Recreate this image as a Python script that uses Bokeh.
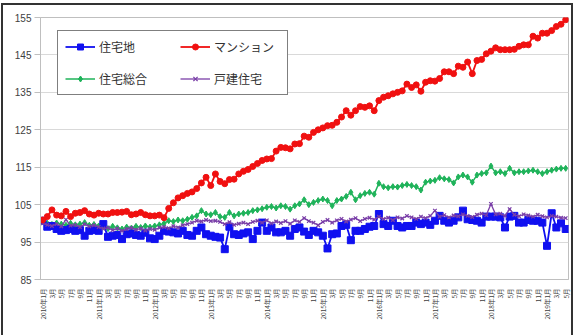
import math
from bokeh.plotting import figure
from bokeh.models import Range1d, FixedTicker, Legend, LegendItem
from bokeh.embed import file_html
from bokeh.resources import INLINE

# ---- data (monthly, 2010年1月 – 2019年5月) ----
start_year = 2010
n_months = 113

residential_land = (  # 住宅地
    [100.7, 99.1, 99.3, 98.5, 98.0, 98.2, 98.5, 98.0, 98.2, 96.7, 98.0, 98.2]
    + [98.0, 99.8, 96.4, 96.7, 96.9, 95.8, 97.1, 97.3, 96.9, 96.7, 97.5, 96.0]
    + [95.8, 96.7, 98.0, 97.8, 97.6, 97.3, 98.0, 96.9, 96.7, 98.0, 98.9, 97.1]
    + [96.7, 96.4, 96.2, 93.1, 99.1, 97.1, 96.9, 97.3, 97.6, 95.8, 98.0, 100.2]
    + [98.0, 98.9, 97.6, 97.6, 98.0, 96.7, 98.5, 98.9, 97.8, 96.9, 98.0, 97.6]
    + [96.7, 93.3, 97.1, 97.3, 99.3, 99.6, 95.5, 98.0, 98.0, 98.5, 99.1, 99.3]
    + [102.5, 99.8, 99.3, 100.7, 99.3, 98.9, 99.3, 99.3, 100.2, 99.8, 100.2, 99.6]
    + [100.7, 102.0, 100.7, 100.2, 100.7, 101.6, 103.4, 101.1, 100.9, 100.7, 100.2, 101.8]
    + [101.8, 101.8, 101.6, 98.9, 101.8, 102.0, 100.2, 100.2, 100.9, 100.7, 100.7, 100.2]
    + [94.0, 102.7, 98.9, 100.0, 98.5]
)

condominium = (  # マンション
    [100.9, 101.8, 103.6, 102.2, 102.0, 103.2, 101.8, 102.7, 102.9, 103.4, 102.5, 102.2]
    + [102.7, 102.5, 102.5, 102.9, 102.9, 103.0, 103.2, 102.3, 102.5, 102.9, 102.3, 102.0]
    + [102.0, 102.2, 101.5, 104.0, 105.5, 106.8, 107.4, 108.0, 108.4, 109.3, 110.8, 112.3]
    + [110.1, 113.2, 111.2, 110.6, 111.7, 111.8, 113.2, 113.9, 114.4, 115.2, 116.0, 116.8]
    + [117.2, 117.3, 119.3, 120.3, 120.2, 119.9, 121.2, 121.3, 123.3, 123.0, 124.3, 125.0]
    + [125.5, 126.1, 126.2, 127.0, 128.4, 130.1, 128.9, 130.1, 131.2, 131.0, 131.4, 130.1]
    + [132.8, 133.7, 134.1, 134.6, 135.0, 135.4, 137.2, 136.3, 137.0, 135.3, 137.7, 138.1]
    + [138.0, 138.7, 140.5, 140.5, 140.0, 142.0, 141.7, 143.1, 140.0, 143.5, 143.8, 145.3]
    + [146.0, 146.9, 146.4, 146.4, 146.4, 146.5, 147.3, 147.7, 147.7, 150.0, 149.5, 150.8]
    + [150.8, 151.5, 152.6, 153.2, 154.4]
)

residential_total = (  # 住宅総合
    [100.8, 100.0, 99.7, 100.1, 99.8, 99.5, 100.0, 99.6, 99.8, 100.2, 99.5, 99.7]
    + [99.3, 99.0, 98.6, 99.2, 98.8, 98.5, 99.0, 98.7, 99.2, 98.9, 99.3, 99.0]
    + [99.3, 99.6, 100.0, 100.7, 100.5, 100.9, 100.7, 101.1, 101.6, 102.0, 103.4, 102.5]
    + [102.3, 102.9, 101.8, 101.6, 102.9, 102.0, 102.5, 102.7, 102.9, 103.4, 103.6, 103.9]
    + [104.3, 104.5, 104.1, 104.7, 104.5, 103.8, 104.7, 105.2, 106.3, 105.0, 105.6, 106.1]
    + [106.5, 106.1, 104.7, 106.1, 106.5, 107.2, 108.3, 106.3, 107.4, 108.0, 108.3, 107.8]
    + [110.7, 109.8, 109.5, 109.8, 109.7, 110.1, 110.4, 110.1, 109.8, 108.9, 111.0, 111.3]
    + [111.5, 112.2, 111.9, 111.7, 110.8, 112.4, 112.9, 112.4, 111.0, 112.9, 113.3, 113.5]
    + [115.3, 113.5, 113.8, 113.3, 114.7, 113.5, 113.8, 113.8, 114.0, 114.2, 113.8, 113.3]
    + [113.8, 114.2, 114.5, 114.7, 114.7]
)

detached_house = (  # 戸建住宅
    [100.0, 99.6, 99.3, 99.8, 99.2, 101.0, 99.4, 99.6, 99.0, 99.8, 99.2, 99.5]
    + [99.0, 98.6, 98.8, 98.2, 98.6, 98.0, 98.5, 98.8, 98.3, 98.6, 98.1, 98.5]
    + [98.3, 98.8, 99.0, 98.7, 99.2, 98.9, 99.5, 99.8, 100.2, 100.7, 100.5, 100.9]
    + [100.6, 100.7, 100.4, 99.8, 100.3, 99.6, 99.9, 100.2, 99.8, 100.4, 100.7, 100.2]
    + [100.8, 100.0, 100.5, 100.1, 100.6, 99.9, 100.8, 100.4, 101.4, 100.6, 100.2, 99.5]
    + [100.4, 100.9, 100.2, 100.8, 101.2, 100.5, 101.0, 101.4, 100.6, 101.2, 101.5, 101.0]
    + [101.8, 101.2, 101.5, 100.9, 101.6, 101.3, 102.0, 101.6, 101.2, 101.8, 101.4, 102.0]
    + [103.4, 101.8, 102.2, 101.6, 102.1, 101.9, 102.4, 102.0, 101.7, 102.3, 102.6, 102.2]
    + [105.2, 102.4, 102.6, 102.0, 103.8, 102.3, 101.9, 102.4, 102.1, 101.8, 102.3, 101.9]
    + [101.6, 102.0, 101.8, 101.5, 101.4]
)

y_ticks = [85, 95, 105, 115, 125, 135, 145, 155]

months = list(range(n_months))
tick_positions = list(range(0, n_months, 2))
tick_labels = {}
for i in tick_positions:
    y, m = divmod(i, 12)
    tick_labels[i] = f"{start_year + y}年{m + 1}月" if m == 0 else f"{m + 1}月"

# ---- figure ----
p = figure(width=572, height=340, output_backend="svg", toolbar_location=None,
           x_range=Range1d(-0.45, 112.6), y_range=Range1d(85, 155))
p.styles = {"border": "2px solid #333333", "margin-left": "1px", "margin-top": "3px"}
p.min_border_left = 37
p.min_border_right = 7
p.min_border_top = 12
p.min_border_bottom = 66
p.outline_line_color = "#bfbfbf"
p.background_fill_color = "white"
p.border_fill_color = "white"

p.xgrid.visible = False
p.ygrid.grid_line_color = "#d9d9d9"
p.ygrid.ticker = FixedTicker(ticks=y_ticks)

p.yaxis.ticker = FixedTicker(ticks=y_ticks)
p.yaxis.axis_line_color = "#bfbfbf"
p.yaxis.major_tick_line_color = "#bfbfbf"
p.yaxis.major_tick_out = 6
p.yaxis.major_tick_in = 0
p.yaxis.minor_tick_line_color = None
p.yaxis.major_label_text_font = "Liberation Sans"
p.yaxis.major_label_text_font_size = "10px"
p.yaxis.major_label_text_color = "#404040"
p.yaxis.major_label_standoff = 3

p.xaxis.ticker = FixedTicker(ticks=tick_positions)
p.xaxis.major_label_overrides = tick_labels
p.xaxis.major_label_orientation = math.pi / 2
p.xaxis.axis_line_color = "#bfbfbf"
p.xaxis.major_tick_line_color = None
p.xaxis.minor_tick_line_color = None
p.xaxis.major_label_text_font = "Noto Sans CJK JP"
p.xaxis.major_label_text_font_size = "6.5px"
p.xaxis.major_label_text_color = "#404040"
p.xaxis.major_label_standoff = 3

green = "#1fb35a"
blue = "#1010f0"
purple = "#7a3fa8"
red = "#f01010"

g_l = p.line(months, residential_total, line_color=green, line_width=1.5)
g_s = p.scatter(months, residential_total, marker="diamond", size=6,
                fill_color=green, line_color=green)
b_l = p.line(months, residential_land, line_color=blue, line_width=1.8)
b_s = p.scatter(months, residential_land, marker="square", size=7,
                fill_color=blue, line_color=blue)
pu_l = p.line(months, detached_house, line_color=purple, line_width=1.3)
pu_s = p.scatter(months, detached_house, marker="x", size=5,
                 line_color=purple, line_width=1.3)
r_l = p.line(months, condominium, line_color=red, line_width=1.8)
r_s = p.scatter(months, condominium, marker="circle", size=6,
                fill_color=red, line_color=red)

# column-major order: left column (住宅地, 住宅総合), right column (マンション, 戸建住宅)
legend = Legend(items=[
    LegendItem(label="住宅地", renderers=[b_l, b_s]),
    LegendItem(label="住宅総合", renderers=[g_l, g_s]),
    LegendItem(label="マンション", renderers=[r_l, r_s]),
    LegendItem(label="戸建住宅", renderers=[pu_l, pu_s]),
], ncols=2, location=(17, 184))
legend.label_text_font = "Noto Sans CJK JP"
legend.label_text_font_size = "12px"
legend.label_text_color = "#333333"
legend.glyph_width = 30
legend.glyph_height = 15
legend.label_height = 15
legend.label_width = 66
legend.label_standoff = 4
legend.spacing = 15
legend.padding = 7
legend.margin = 0
legend.border_line_color = "black"
legend.border_line_width = 1.5
legend.background_fill_alpha = 1.0
p.add_layout(legend, "center")

open("out.html", "w").write(file_html(p, INLINE))
